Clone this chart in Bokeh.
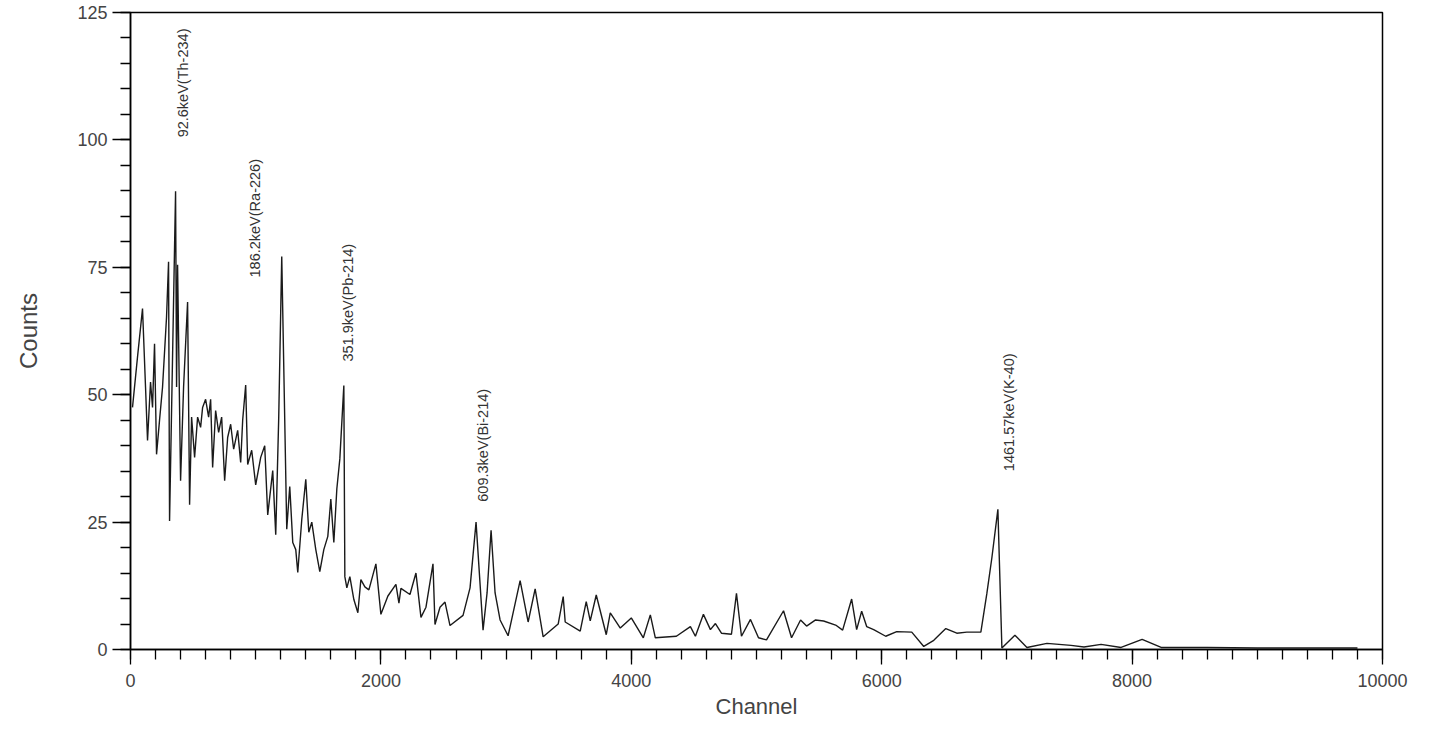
import math
from bokeh.plotting import figure
from bokeh.models import Range1d, FixedTicker
from bokeh.core.properties import value
from bokeh.embed import file_html
from bokeh.resources import INLINE

# spectrum: channel, counts
channel = [16, 56, 96, 120, 136, 160, 176, 192, 208, 232, 256, 288, 304, 312, 360, 368, 376, 400,
           424, 456, 472, 488, 512, 536, 560, 576, 600, 624, 640, 656, 680, 704, 728, 752, 776,
           800, 824, 856, 880, 896, 920, 936, 968, 1000, 1040, 1072, 1096, 1136, 1160, 1184, 1208,
           1248, 1272, 1296, 1320, 1336, 1368, 1400, 1424, 1448, 1480, 1512, 1544, 1576, 1600,
           1624, 1648, 1672, 1704, 1712, 1728, 1752, 1784, 1816, 1840, 1872, 1904, 1960, 2000,
           2056, 2120, 2144, 2160, 2232, 2280, 2320, 2360, 2416, 2432, 2472, 2512, 2552, 2656,
           2712, 2760, 2816, 2848, 2880, 2912, 2952, 3016, 3112, 3176, 3232, 3296, 3416, 3456,
           3472, 3592, 3640, 3672, 3720, 3800, 3832, 3912, 4000, 4096, 4152, 4192, 4360, 4472,
           4512, 4576, 4632, 4672, 4720, 4800, 4840, 4880, 4952, 5016, 5080, 5216, 5280, 5352,
           5400, 5472, 5536, 5632, 5688, 5760, 5800, 5840, 5880, 5936, 6032, 6120, 6240, 6336,
           6416, 6512, 6600, 6680, 6792, 6840, 6880, 6928, 6960, 7064, 7160, 7320, 7512, 7616,
           7752, 7912, 8080, 8232, 8600, 9000, 9400, 9800]
counts = [47.5, 57.4, 66.9, 51.5, 41.0, 52.5, 47.5, 60.0, 38.3, 45.0, 51.5, 65.3, 76.1, 25.2, 89.9,
          51.5, 75.5, 33.1, 51.5, 68.2, 28.4, 45.6, 37.7, 45.6, 43.6, 47.5, 49.1, 45.6, 49.1, 35.7,
          46.9, 42.6, 45.6, 33.1, 41.6, 44.2, 39.3, 43.0, 36.7, 45.0, 51.9, 36.3, 39.1, 32.3, 37.7,
          40.0, 26.4, 35.1, 22.5, 45.6, 77.1, 23.6, 32.0, 21.0, 19.6, 15.1, 25.5, 33.4, 23.0, 25.0,
          19.6, 15.3, 19.6, 22.2, 29.5, 21.0, 31.5, 37.4, 51.8, 14.3, 12.1, 14.3, 9.8, 7.2, 13.7,
          12.3, 11.7, 16.8, 6.9, 10.5, 12.8, 9.1, 12.0, 10.8, 15.0, 6.3, 8.3, 16.8, 4.9, 8.3, 9.3,
          4.7, 6.7, 12.1, 25.0, 3.8, 11.1, 23.4, 11.1, 5.8, 2.7, 13.5, 5.4, 11.9, 2.5, 5.0, 10.4,
          5.4, 3.6, 9.4, 5.6, 10.7, 2.9, 7.2, 4.2, 6.2, 2.3, 6.8, 2.3, 2.6, 4.5, 2.6, 6.9, 3.9, 5.1,
          3.2, 3.0, 11.0, 2.6, 5.9, 2.3, 1.9, 7.6, 2.3, 5.8, 4.6, 5.8, 5.6, 4.8, 3.8, 9.9, 3.9, 7.5,
          4.5, 3.9, 2.6, 3.5, 3.4, 0.6, 1.8, 4.1, 3.2, 3.4, 3.4, 11.0, 18.0, 27.5, 0.3, 2.8, 0.4,
          1.2, 0.8, 0.5, 1.0, 0.4, 2.0, 0.4, 0.4, 0.3, 0.3, 0.3]

# peak annotations
peak_labels = ["92.6keV(Th-234)", "186.2keV(Ra-226)", "351.9keV(Pb-214)",
               "609.3keV(Bi-214)", "1461.57keV(K-40)"]
peak_label_x = [416, 992, 1736, 2816, 7016]
peak_label_y = [100.5, 73.0, 56.5, 29.0, 35.0]

x_ticks = [0, 2000, 4000, 6000, 8000, 10000]
y_ticks = [0, 25, 50, 75, 100, 125]

p = figure(width=1427, height=721, output_backend="svg", toolbar_location=None,
           x_range=Range1d(0, 10000), y_range=Range1d(0, 125),
           min_border_left=130, min_border_right=45, min_border_top=12, min_border_bottom=69,
           x_axis_label="Channel", y_axis_label="Counts")
p.background_fill_color = "white"
p.border_fill_color = "white"
p.grid.visible = False
p.outline_line_color = "black"
p.outline_line_width = 1.5

p.xaxis.ticker = FixedTicker(ticks=x_ticks, minor_ticks=list(range(0, 10001, 200)))
p.yaxis.ticker = FixedTicker(ticks=y_ticks, minor_ticks=list(range(0, 126, 5)))

for ax in (p.xaxis, p.yaxis):
    ax.axis_line_color = "black"
    ax.axis_line_width = 1.5
    ax.major_tick_line_color = "black"
    ax.minor_tick_line_color = "black"
    ax.major_tick_line_width = 1.3
    ax.minor_tick_line_width = 1.3
    ax.major_tick_in = 0
    ax.minor_tick_in = 0
    ax.major_label_text_font = "Liberation Sans"
    ax.major_label_text_color = "#444444"
    ax.axis_label_text_font = "Liberation Sans"
    ax.axis_label_text_color = "#444444"
    ax.axis_label_text_font_style = "normal"

p.xaxis.major_tick_out = 15
p.xaxis.minor_tick_out = 10
p.xaxis.major_label_text_font_size = "18px"
p.xaxis.major_label_standoff = 9
p.xaxis.axis_label_text_font_size = "22px"
p.xaxis.axis_label_standoff = 4

p.yaxis.major_tick_out = 18
p.yaxis.minor_tick_out = 10
p.yaxis.major_label_text_font_size = "18px"
p.yaxis.major_label_standoff = 5
p.yaxis.axis_label_text_font_size = "24px"
p.yaxis.axis_label_standoff = 32

p.line(channel, counts, line_color="#1a1a1a", line_width=1.4)

p.text(x=peak_label_x, y=peak_label_y, text=peak_labels, angle=math.pi / 2,
       text_align="left", text_baseline="middle", text_color="#333333",
       text_font=value("Liberation Sans"), text_font_size="14.5px")

open("out.html", "w").write(file_html(p, INLINE))
